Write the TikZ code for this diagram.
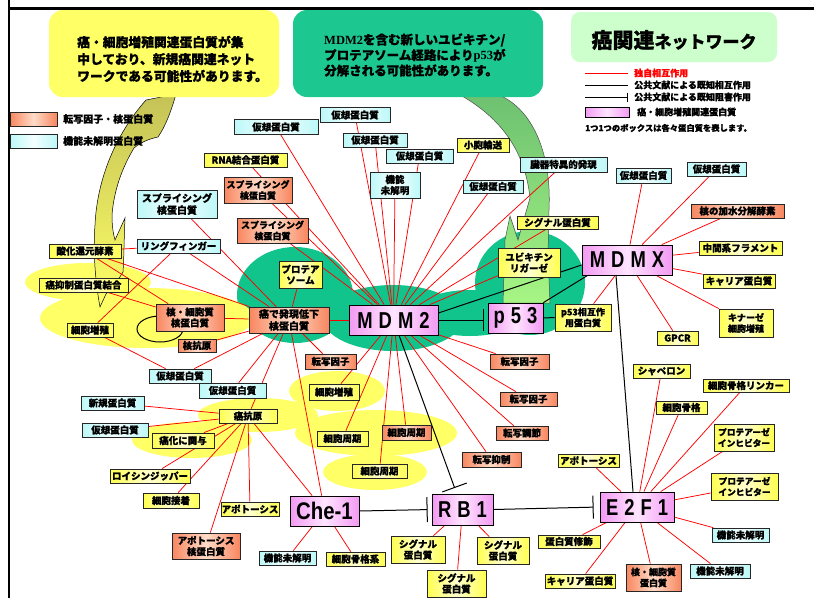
\documentclass[tikz,border=0pt]{standalone}
\usepackage{fontspec}
\setmainfont{Noto Sans CJK JP Bold}[FakeBold=0.8]
\newfontfamily\hubfont{Liberation Sans}[FakeStretch=0.8]
\newfontfamily\chefont{Liberation Sans}[FakeStretch=0.85]
\newfontfamily\tnr{Liberation Serif}
\usetikzlibrary{arrows.meta}
\pgfdeclarelayer{bg}
\pgfdeclarelayer{edges}
\pgfsetlayers{bg,edges,main}
\definecolor{tealB}{HTML}{10C48C}
\definecolor{yelB}{HTML}{FFFF66}
\definecolor{calG}{HTML}{1CC88F}
\definecolor{titG}{HTML}{CCFFCC}
\definecolor{pkE}{HTML}{F29AF2}
\definecolor{pkM}{HTML}{FFE4FF}
\definecolor{orE}{HTML}{F8865F}
\definecolor{orM}{HTML}{FFDCC8}
\definecolor{cyE}{HTML}{BDF8F8}
\definecolor{cyM}{HTML}{F4FFFF}
\definecolor{ywE}{HTML}{FFFF50}
\definecolor{ywM}{HTML}{FFFFD0}
\definecolor{olv}{HTML}{C4C257}
\definecolor{grA}{HTML}{6CC070}
\definecolor{grB}{HTML}{A6F584}
\newcommand\fsz[2]{\bfseries\fontsize{#1}{#2}\selectfont}
\newcommand\bx[7]{\node[#1,minimum width=#5pt,minimum height=#6pt] (#2) at (#3,#4) {#7};}
\begin{document}
\begin{tikzpicture}[x=1pt,y=-1pt,
  box/.style={draw=black!85, line width=0.7pt, inner sep=0pt, align=center, font=\fsz{9.5}{11}},
  V/.style={box, left color=cyE, right color=cyE, middle color=cyM},
  O/.style={box, left color=orE, right color=orE, middle color=orM},
  Y/.style={box, left color=ywE, right color=ywE, middle color=ywM},
  H/.style={draw=black, line width=0.8pt, inner sep=0pt, align=center, left color=pkE, right color=pkE, middle color=pkM, font=\hubfont\bfseries\fontsize{23}{25}\selectfont},
  redE/.style={draw=red, line width=0.75pt},
  blkE/.style={draw=black, line width=1pt},
  lgtxt/.style={anchor=west, inner sep=0pt, font=\fsz{9}{10}}
]
\useasboundingbox (0,0) rectangle (814,598);
\draw[line width=2.5pt] (9,8.5) -- (814,8.5);
\draw[line width=2pt] (9,0) -- (9,598);

\begin{pgfonlayer}{bg}
\fill[white] (0,0) rectangle (814,598);
% teal region
\fill[tealB] (295,295) ellipse [x radius=58pt, y radius=48pt];
\fill[tealB] (393,318) ellipse [x radius=70pt, y radius=33pt];
\fill[tealB] (470,313) ellipse [x radius=55pt, y radius=23pt];
\fill[tealB] (530,283) ellipse [x radius=55pt, y radius=52pt];
% yellow regions
\fill[yelB] (88,282) ellipse [x radius=63pt, y radius=19pt];
\fill[yelB] (147,318) ellipse [x radius=107pt, y radius=30pt];
\fill[yelB] (258,415) ellipse [x radius=60pt, y radius=17pt];
\fill[yelB] (192,440) ellipse [x radius=60pt, y radius=18pt];
\fill[yelB] (337,391) ellipse [x radius=48pt, y radius=20pt];
\fill[yelB] (376,433) ellipse [x radius=81pt, y radius=23pt];
\fill[yelB] (375,472) ellipse [x radius=52pt, y radius=18pt];
% olive/yellow arrow
\shade[top color=olv, bottom color=yelB, draw=black, line width=0.5pt]
 (146,100) -- (176,94) .. controls (171,112) and (165,127) .. (158,137)
 .. controls (148,139) and (140,143) .. (134,148)
 .. controls (122,168) and (114,190) .. (112,215)
 .. controls (112,225) and (113,233) .. (115,240) -- (125,218)
 .. controls (124,240) and (124,258) .. (123,272)
 .. controls (117,282) and (110,290) .. (106,294) -- (100,307)
 .. controls (95,280) and (93,250) .. (95,225)
 .. controls (97,180) and (115,135) .. (146,100) -- cycle;
% green arrow
\shade[top color=grA, bottom color=grB, draw=black!70, line width=0.5pt]
 (490,92) .. controls (530,102) and (552,150) .. (549,210) -- (548,255) -- (550,303)
 -- (503,303) -- (505,240) -- (510,216) -- (518,240) -- (530,198)
 .. controls (525,150) and (500,118) .. (462,96) -- cycle;
\end{pgfonlayer}

% callouts and title
\node[fill=yelB, rounded corners=14pt, minimum width=230pt, minimum height=87pt, inner sep=0pt] (callY) at (164,53.5) {};
\node[anchor=west, align=left, inner sep=0pt, font=\fsz{12.8}{17}] (callYt) at (77,59) {癌・細胞増殖関連蛋白質が集\\中しており、新規癌関連ネット\\ワークである可能性があります。};
\node[fill=calG, rounded corners=14pt, minimum width=250pt, minimum height=87pt, inner sep=0pt] (callG) at (418,53.5) {};
\node[anchor=west, align=left, inner sep=0pt, font=\fsz{12.5}{15.5}] (callGt) at (324,55) {{\tnr\bfseries MDM2}を含む新しいユビキチン/\\プロテアソーム経路により{\tnr\bfseries p53}が\\分解される可能性があります。};
\node[fill=titG, rounded corners=9pt, minimum width=206pt, minimum height=50pt, inner sep=0pt] (title) at (674,37) {};
\node[inner sep=0pt] (titlet) at (674,40) {\fsz{21}{24}癌関連\fsz{17}{24}ネットワーク};

% right legend
\coordinate (lg1a) at (585,73); \coordinate (lg1b) at (628,73);
\coordinate (lg2a) at (585,85); \coordinate (lg2b) at (628,85);
\coordinate (lg3a) at (585,97); \coordinate (lg3b) at (628,97);
\draw[redE] (lg1a) -- (lg1b);
\draw[blkE] (lg2a) -- (lg2b);
\draw[blkE,-{Bar[width=9pt]}] (lg3a) -- (lg3b);
\node[lgtxt, text=red] (lg1t) at (634,73) {独自相互作用};
\node[lgtxt] (lg2t) at (634,85) {公共文献による既知相互作用};
\node[lgtxt] (lg3t) at (634,97) {公共文献による既知阻害作用};
\bx{H,line width=0.6pt}{lgP}{607}{112}{44}{10}{}
\node[lgtxt] (lg4t) at (637,112) {癌・細胞増殖関連蛋白質};
\node[lgtxt, font=\fsz{8.3}{10}] (lg5t) at (585,128) {1つ1つのボックスは各々蛋白質を表します。};
% left legend
\bx{O}{lgO}{33.5}{119}{47}{14}{}
\bx{V}{lgV}{33.5}{141}{47}{14}{}
\node[lgtxt, font=\fsz{10}{11}] (lgOt) at (63,119) {転写因子・核蛋白質};
\node[lgtxt, font=\fsz{10}{11}] (lgVt) at (63,141) {機能未解明蛋白質};

% hubs
\node[H, minimum width=89pt, minimum height=30pt] (MDM2) at (393.5,320) {M\hspace{6pt}D\hspace{6pt}M\hspace{6pt}2};
\node[H, minimum width=55pt, minimum height=30pt] (p53) at (515.5,318) {p\hspace{6pt}5\hspace{6pt}3};
\node[H, minimum width=90pt, minimum height=30pt] (MDMX) at (627,260) {M\hspace{6pt}D\hspace{6pt}M\hspace{6pt}X};
\node[H, minimum width=69pt, minimum height=30pt, font=\chefont\bfseries\fontsize{24}{26}\selectfont] (Che1) at (324.5,511) {Che-1};
\node[H, minimum width=61pt, minimum height=31pt] (RB1) at (462.5,509.5) {R\hspace{6pt}B\hspace{6pt}1};
\node[H, minimum width=74pt, minimum height=30pt] (E2F1) at (637,507) {E\hspace{6pt}2\hspace{6pt}F\hspace{6pt}1};

% cyan nodes
\bx{V}{v1}{276}{127}{84}{15}{仮想蛋白質}
\bx{V}{v2}{355}{115}{70}{15}{仮想蛋白質}
\bx{V}{v3}{375}{140}{64}{14}{仮想蛋白質}
\bx{V}{v4}{419.5}{156}{67}{14}{仮想蛋白質}
\bx{V}{v5}{395}{185}{50}{26}{機能\\未解明}
\bx{V}{v6}{493}{186.5}{60}{13}{仮想蛋白質}
\bx{V}{v7}{563.5}{164.5}{87}{15}{臓器特異的発現}
\bx{V}{v8}{643.5}{175.5}{55}{15}{仮想蛋白質}
\bx{V}{v9}{716.5}{169}{59}{14}{仮想蛋白質}
\bx{V,font=\fsz{10}{12}}{v10}{177}{204}{80}{28}{スプライシング\\核蛋白質}
\bx{V}{v11}{178.5}{246}{83}{14}{リングフィンガー}
\bx{V}{v12}{180}{376}{62}{14}{仮想蛋白質}
\bx{V}{v13}{232.5}{390.5}{67}{15}{仮想蛋白質}
\bx{V}{v14}{112.5}{403}{63}{14}{新規蛋白質}
\bx{V}{v15}{115}{430}{66}{14}{仮想蛋白質}
\bx{V}{v16}{287.5}{558}{57}{14}{機能未解明}
\bx{V}{v17}{740.5}{535}{57}{14}{機能未解明}
\bx{V}{v18}{720}{571}{60}{14}{機能未解明}

% orange nodes
\bx{O,font=\fsz{9}{11}}{o1}{258}{190}{68}{26}{スプライシング\\核蛋白質}
\bx{O,font=\fsz{9}{11}}{o2}{272.5}{230.5}{71}{25}{スプライシング\\核蛋白質}
\bx{O}{o3}{190}{317.5}{68}{27}{核・細胞質\\核蛋白質}
\bx{O}{o4}{197}{345.5}{38}{13}{核抗原}
\bx{O,font=\fsz{10}{12}}{low}{289}{320}{80}{26}{癌で発現低下\\核蛋白質}
\bx{O}{o5}{330.5}{361.5}{51}{15}{転写因子}
\bx{O}{o6}{519.5}{361.5}{59}{15}{転写因子}
\bx{O}{o7}{528.5}{399}{57}{14}{転写因子}
\bx{O}{o8}{522}{433}{52}{14}{転写調節}
\bx{O}{o9}{491.5}{459.5}{59}{15}{転写抑制}
\bx{O}{o10}{406.5}{432.5}{49}{15}{細胞周期}
\bx{O}{o11}{737.5}{211}{93}{14}{核の加水分解酵素}
\bx{O}{o12}{206}{546}{68}{26}{アポトーシス\\核蛋白質}
\bx{O,font=\fsz{9}{11}}{o13}{653.5}{577.5}{55}{27}{核・細胞質\\蛋白質}

% yellow nodes
\bx{Y}{y1}{483}{145}{52}{14}{小胞輸送}
\bx{Y}{y2}{245.5}{160}{83}{14}{RNA結合蛋白質}
\bx{Y}{y3}{557.5}{222.5}{81}{13}{シグナル蛋白質}
\bx{Y}{y4}{529}{262.5}{62}{29}{ユビキチン\\リガーゼ}
\bx{Y}{y5}{300.5}{274.5}{43}{27}{プロテア\\ソーム}
\bx{Y,font=\fsz{9}{11}}{y6}{583}{317.5}{56}{27}{p53相互作\\用蛋白質}
\bx{Y}{y7}{740.5}{248}{83}{14}{中間系フラメント}
\bx{Y}{y8}{739}{281}{72}{14}{キャリア蛋白質}
\bx{Y,font=\fsz{9}{11}}{y9}{746}{323}{54}{28}{キナーゼ\\細胞増殖}
\bx{Y}{y10}{677.5}{338}{41}{14}{GPCR}
\bx{Y}{y11}{661.5}{371}{57}{14}{シャペロン}
\bx{Y}{y12}{746}{385.5}{86}{13}{細胞骨格リンカー}
\bx{Y}{y13}{681.5}{407.5}{51}{13}{細胞骨格}
\bx{Y,font=\fsz{8.7}{11}}{y14}{744}{437.5}{60}{27}{プロテアーゼ\\インヒビター}
\bx{Y,font=\fsz{8.7}{11}}{y15}{744.5}{486.5}{67}{27}{プロテアーゼ\\インヒビター}
\bx{Y}{y16}{588.5}{460.5}{61}{13}{アポトーシス}
\bx{Y}{y17}{569}{541.5}{62}{13}{蛋白質修飾}
\bx{Y}{y18}{580}{581}{70}{14}{キャリア蛋白質}
\bx{Y}{y19}{418}{549.5}{54}{27}{シグナル\\蛋白質}
\bx{Y}{y20}{503}{550.5}{52}{27}{シグナル\\蛋白質}
\bx{Y}{y21}{456.5}{583.5}{59}{27}{シグナル\\蛋白質}
\bx{Y}{y22}{355.5}{559}{59}{14}{細胞骨格系}
\bx{Y}{y23}{171}{500.5}{56}{15}{細胞接着}
\bx{Y}{y24}{150}{476}{80}{14}{ロイシンジッパー}
\bx{Y}{y25}{250}{509}{58}{14}{アポトーシス}
\bx{Y}{y26}{248}{416}{58}{14}{癌抗原}
\bx{Y}{y27}{183}{440.5}{62}{15}{癌化に関与}
\bx{Y}{y28}{85}{251}{72}{14}{酸化還元酵素}
\bx{Y}{y29}{83.5}{285}{89}{14}{癌抑制蛋白質結合}
\bx{Y}{y30}{90}{330}{46}{14}{細胞増殖}
\bx{Y}{y31}{334}{392}{50}{16}{細胞増殖}
\bx{Y}{y32}{342.5}{438.5}{51}{15}{細胞周期}
\bx{Y}{y33}{379.5}{471}{55}{14}{細胞周期}

\begin{pgfonlayer}{edges}
\foreach \b in {v1,v2,v3,v4,v5,y1,v6,v7,y2,o1,o2,y3,y4,low,y31,y32,y33,o10,o9,o8,o7,o6}
  \draw[redE] (MDM2) -- (\b);
\foreach \b in {y5,o3,o4,v12,v13,y26,Che1,o5,y28,v11,v10}
  \draw[redE] (low) -- (\b);
\foreach \a/\b in {o3/y28,o3/y29,y30/v11,y30/v12,y28/v11,Che1/v16,Che1/y22,RB1/y19,RB1/y20,RB1/y21}
  \draw[redE] (\a) -- (\b);
\foreach \b in {v14,v15,y27,y24,y23,o12,y25,Che1}
  \draw[redE] (y26) -- (\b);
\foreach \b in {y16,y11,y13,y12,y14,y15,v17,v18,o13,y18,y17}
  \draw[redE] (E2F1) -- (\b);
\foreach \b in {v8,v9,o11,y7,y8,y9,y10,y6}
  \draw[redE] (MDMX) -- (\b);
% black known interactions
\draw[blkE] (160,329) ellipse [x radius=23pt, y radius=13pt];
\draw[blkE] ([yshift=7pt]MDM2.east) -- ([yshift=-5pt]MDMX.west);
\draw[blkE] ([xshift=6pt]MDMX.south west) -- (p53.north east);
\draw[blkE] (p53.east) -- (y6.west);
\draw[blkE] ([xshift=-11pt]MDMX.south) -- ([xshift=-4pt]E2F1.north);
% inhibition
\draw[blkE,-{Bar[width=22pt]},shorten >=4pt] (MDM2.east) -- (MDM2.east -| p53.west);
\draw[blkE,-{Bar[width=26pt]},shorten >=6pt] (MDM2) -- (RB1);
\draw[blkE,-{Bar[width=25pt]},shorten >=4pt] (Che1.east) -- (RB1.west);
\draw[blkE,-{Bar[width=23pt]},shorten >=6pt] (RB1.east) -- (E2F1.west);
\end{pgfonlayer}
\end{tikzpicture}
\end{document}
